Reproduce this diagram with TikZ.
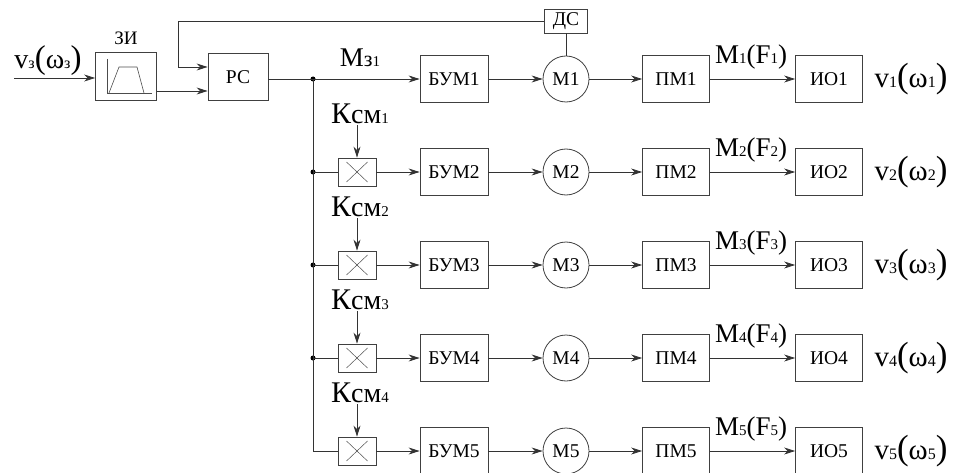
\documentclass[tikz,border=0pt]{standalone}
\usepackage{fontspec}
\setmainfont{Liberation Serif}
\newfontfamily\tnr{Liberation Serif}
\usetikzlibrary{arrows.meta,calc}
\newcommand{\fs}[1]{\tnr\fontsize{#1}{#1}\selectfont}
\newcommand{\dg}[1]{{\fs{15}#1}}
\newcommand{\dgb}[1]{{\fs{16}#1}}
\newcommand{\bigf}{\fs{29}}
\newcommand{\parf}{\fs{35}}
\tikzset{
  wire/.style={line width=0.8pt, draw=black!80},
  arr/.style={wire, -{Stealth[length=11pt,width=7pt,inset=3.5pt]}},
  blk/.style={draw=black!75, line width=0.8pt, minimum width=68pt, minimum height=47pt,
              inner sep=0pt, font=\fs{19.5}},
  sblk/.style={blk, minimum width=43pt, minimum height=24pt},
  mot/.style={draw=black!75, line width=0.8pt, circle, minimum size=46pt, inner sep=0pt,
              font=\fs{19.5}},
  mix/.style={draw=black!75, line width=0.8pt, minimum width=38pt, minimum height=28pt, inner sep=0pt},
  dot/.style={circle, fill=black, inner sep=0pt, minimum size=5pt},
  lbl/.style={inner sep=1pt, font=\tnr},
}
\begin{document}
\begin{tikzpicture}[x=1pt,y=-1pt]
\useasboundingbox (0,0) rectangle (957,473);
% input part
\node[blk, minimum width=61pt, minimum height=48pt] (zi) at (126,76) {};
\node[lbl, font=\fs{19}] (zil) at (126,38) {ЗИ};
\draw[line width=0.6pt, draw=black!70] (107,59) -- (107,93) -- (152,93);
\draw[line width=0.6pt, draw=black!70] (109,93) -- (119,67) -- (137,67) -- (144,93);
\node[blk, minimum width=60pt] (rs) at (238,77) {РС};
\node[sblk] (ds) at (566,21) {ДС};
\node[lbl] (vin) at (48,61) {\fs{28}v\dgb{з}{\fs{33}(}ω\dgb{з}{\fs{33})}};
\coordinate (in) at (14,78);
\draw[arr] (in) -- (in -| zi.west);
\coordinate (ziout) at (157,91);
\draw[arr] (ziout) -- (ziout -| rs.west);
\coordinate (fb) at (178,67);
\coordinate (J) at (313,79);
% rows
\foreach \k/\r in {1/79,2/172,3/265,4/358,5/451}{
  \node[blk] (bum\k) at (454,\r) {БУМ\k};
  \node[mot] (m\k) at (566,\r) {М\k};
  \node[blk, minimum width=67pt] (pm\k) at (676,\r) {ПМ\k};
  \node[blk, minimum width=67pt] (io\k) at (829,\r) {ИО\k};
  \node[lbl] (mf\k) at (751,\r-22) {\fs{27}M\dg{\k}(F\dg{\k})};
  \node[lbl] (v\k) at (911,\r) {\bigf v\dgb{\k}{\parf(}ω\dgb{\k}{\parf)}};
  \draw[arr] (bum\k) -- (m\k);
  \draw[arr] (m\k) -- (pm\k);
  \draw[arr] (pm\k) -- (io\k);
}
\foreach \k/\r/\c in {2/172/1,3/265/2,4/358/3,5/451/4}{
  \node[mix] (mix\k) at (357,\r) {};
  \draw[line width=0.5pt, draw=black!70] ($(mix\k.center)+(-10.5,-10)$) -- ($(mix\k.center)+(10.5,10)$);
  \draw[line width=0.5pt, draw=black!70] ($(mix\k.center)+(-10.5,10)$) -- ($(mix\k.center)+(10.5,-10)$);
  \node[lbl] (k\k) at (360,\r-58) {{\fs{30}К}{\fs{28}см}\dg{\c}};
  \draw[arr] (mix\k.north |- k\k.south) -- (mix\k.north);
  \draw[arr] (mix\k) -- (bum\k);
}
% junctions
\foreach \k/\r in {2/172,3/265,4/358}{
  \coordinate (j\k) at (313,\r);
  \node[dot] (d\k) at (j\k) {};
  \draw[wire] (j\k) -- (mix\k);
}
\coordinate (j5) at (313,451);
\node[dot] (d1) at (J) {};
\draw[wire] (J) -- (j5) -- (mix5);
\draw[wire] (rs.east |- J) -- (J);
\draw[arr] (J) -- (bum1);
\node[lbl] (mz) at (360,58) {{\fs{27}M}{\fs{22}з}\dg{1}};
% feedback
\draw[arr] (ds.west) -| (fb) -- (fb -| rs.west);
\draw[wire] (ds.south) -- (m1.north);
\end{tikzpicture}
\end{document}
